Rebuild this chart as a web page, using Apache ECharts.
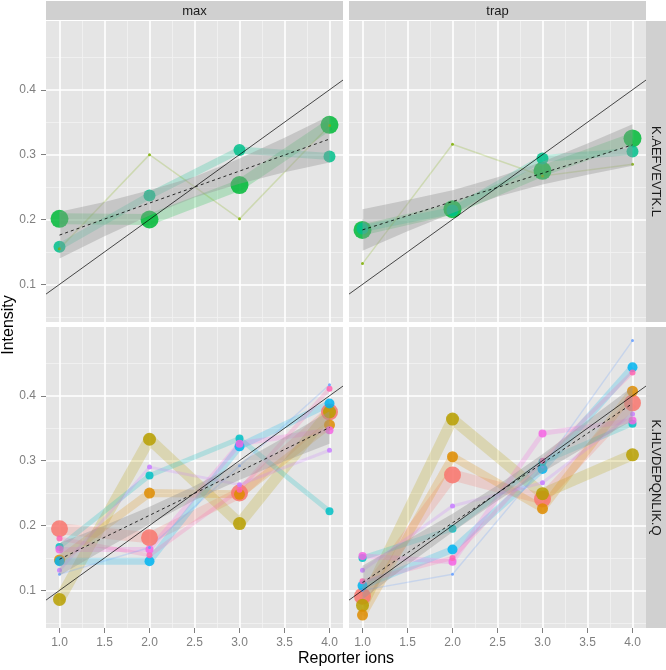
<!DOCTYPE html>
<html><head><meta charset="utf-8">
<script src="https://cdn.jsdelivr.net/npm/echarts@6/dist/echarts.min.js"></script>
<style>html,body{margin:0;padding:0;background:#fff}#chart{width:666px;height:670px}</style>
</head><body><div id="chart"></div>
<script>
// ---------- data ----------
const reporterIons = [1, 2, 3, 4];
const methods = ['max', 'trap'];
const peptides = ['K.AEFVEVTK.L', 'K.HLVDEPQNLIK.Q'];
const xTickValues = [1, 1.5, 2, 2.5, 3, 3.5, 4];
const xMinorBreaks = [1.25, 1.75, 2.25, 2.75, 3.25, 3.75];
const yTickValues = [0.1, 0.2, 0.3, 0.4];
const yMinorBreaks = [0.05, 0.15, 0.25, 0.35, 0.45];
const xLimits = [0.85, 4.15];
const yLimits = [0.042, 0.506];

// K.AEFVEVTK.L / max
const aefMaxA = [0.201, 0.200, 0.253, 0.346];
const aefMaxB = [0.158, 0.237, 0.307, 0.297];
const aefMaxC = [0.155, 0.300, 0.201, 0.345];
// K.AEFVEVTK.L / trap
const aefTrapA = [0.184, 0.216, 0.275, 0.325];
const aefTrapB = [0.186, 0.214, 0.294, 0.305];
const aefTrapC = [0.132, 0.316, 0.267, 0.285];

// K.HLVDEPQNLIK.Q / max
const hlvMaxRed     = [0.195, 0.181, 0.250, 0.375];
const hlvMaxOlive   = [0.086, 0.333, 0.203, 0.375];
const hlvMaxOrange  = [0.147, 0.250, 0.248, 0.355];
const hlvMaxBlue    = [0.145, 0.145, 0.322, 0.388];
const hlvMaxTeal    = [0.167, 0.277, 0.334, 0.222];
const hlvMaxMagenta = [0.163, 0.163, 0.326, 0.347];
const hlvMaxPink    = [0.180, 0.154, 0.255, 0.411];
const hlvMaxPurple  = [0.131, 0.290, 0.263, 0.316];
const hlvMaxViolet  = [0.125, 0.166, 0.292, 0.417];
// K.HLVDEPQNLIK.Q / trap
const hlvTrapRed     = [0.091, 0.278, 0.241, 0.389];
const hlvTrapOlive   = [0.077, 0.364, 0.249, 0.309];
const hlvTrapOrange  = [0.062, 0.306, 0.226, 0.407];
const hlvTrapBlue    = [0.107, 0.163, 0.287, 0.444];
const hlvTrapTeal    = [0.150, 0.195, 0.298, 0.357];
const hlvTrapMagenta = [0.153, 0.144, 0.342, 0.362];
const hlvTrapPink    = [0.114, 0.150, 0.300, 0.436];
const hlvTrapPurple  = [0.131, 0.230, 0.266, 0.372];
const hlvTrapViolet  = [0.100, 0.125, 0.290, 0.485];

// linear fits (dashed) and confidence bands
const fitX = [1, 4];
const aefMaxFit = [0.176, 0.324];
const aefTrapFit = [0.184, 0.315];
const hlvMaxFit = [0.148, 0.351];
const hlvTrapFit = [0.112, 0.388];
const bandX = [1, 1.5, 2, 2.5, 3, 3.5, 4];
const aefMaxLo  = [0.140, 0.174, 0.206, 0.234, 0.255, 0.273, 0.288];
const aefMaxHi  = [0.212, 0.227, 0.245, 0.266, 0.294, 0.326, 0.360];
const aefTrapLo = [0.152, 0.182, 0.210, 0.235, 0.254, 0.269, 0.283];
const aefTrapHi = [0.216, 0.230, 0.245, 0.265, 0.289, 0.317, 0.347];
const hlvMaxLo  = [0.123, 0.163, 0.202, 0.239, 0.270, 0.299, 0.326];
const hlvMaxHi  = [0.173, 0.200, 0.229, 0.261, 0.297, 0.336, 0.376];
const hlvTrapLo = [0.086, 0.139, 0.190, 0.238, 0.282, 0.323, 0.362];
const hlvTrapHi = [0.138, 0.178, 0.218, 0.262, 0.310, 0.362, 0.414];
// expected-ratio reference line
const refX = [0.85, 4.15];
const refY = [0.085, 0.415];

// ---------- styles ----------
const aefColors = ['#00BA38', '#00C08B', '#7CAE00'];
const aefSizes = [18, 12, 3];
const aefWidths = [11, 7, 1.5];
const hlvColors = ['#F8766D', '#B79F00', '#DE8C00', '#00B4F0', '#00BFC4', '#F564E3', '#FF64B0', '#C77CFF', '#619CFF'];
const hlvSizes = [17, 13, 11, 10, 8, 8, 6, 5, 3];
const hlvWidths = [11, 11, 8, 7, 5, 5, 4, 3, 1.5];

const FONT = '"Liberation Sans", Arial, Helvetica, sans-serif';
const PW = 297, PH = 301;
const boxes = [[46, 21], [349, 21], [46, 327], [349, 327]];

const panels = [
  { spectra: [aefMaxA, aefMaxB, aefMaxC], colors: aefColors, sizes: aefSizes, widths: aefWidths, lo: aefMaxLo, hi: aefMaxHi, fit: aefMaxFit },
  { spectra: [aefTrapA, aefTrapB, aefTrapC], colors: aefColors, sizes: aefSizes, widths: aefWidths, lo: aefTrapLo, hi: aefTrapHi, fit: aefTrapFit },
  { spectra: [hlvMaxRed, hlvMaxOlive, hlvMaxOrange, hlvMaxBlue, hlvMaxTeal, hlvMaxMagenta, hlvMaxPink, hlvMaxPurple, hlvMaxViolet], colors: hlvColors, sizes: hlvSizes, widths: hlvWidths, lo: hlvMaxLo, hi: hlvMaxHi, fit: hlvMaxFit },
  { spectra: [hlvTrapRed, hlvTrapOlive, hlvTrapOrange, hlvTrapBlue, hlvTrapTeal, hlvTrapMagenta, hlvTrapPink, hlvTrapPurple, hlvTrapViolet], colors: hlvColors, sizes: hlvSizes, widths: hlvWidths, lo: hlvTrapLo, hi: hlvTrapHi, fit: hlvTrapFit }
];

const grids = [], xAxes = [], yAxes = [], series = [];
panels.forEach((p, g) => {
  const isBottom = g >= 2, isLeft = g % 2 === 0;
  grids.push({ left: boxes[g][0], top: boxes[g][1], width: PW, height: PH, show: true, backgroundColor: '#E5E5E5', borderWidth: 0, containLabel: false });
  xAxes.push({
    type: 'value', gridIndex: g, min: xLimits[0], max: xLimits[1],
    axisLine: { show: false }, splitLine: { show: false },
    axisTick: { show: isBottom, length: 5, customValues: xTickValues, lineStyle: { color: '#7F7F7F', width: 1 } },
    axisLabel: { show: isBottom, customValues: xTickValues, formatter: v => Number(v).toFixed(1), color: '#7F7F7F', fontSize: 12, fontFamily: FONT, margin: 9 }
  });
  yAxes.push({
    type: 'value', gridIndex: g, min: yLimits[0], max: yLimits[1],
    axisLine: { show: false }, splitLine: { show: false },
    axisTick: { show: isLeft, length: 5, customValues: yTickValues, lineStyle: { color: '#7F7F7F', width: 1 } },
    axisLabel: { show: isLeft, customValues: yTickValues, formatter: v => Number(v).toFixed(1), color: '#7F7F7F', fontSize: 12, fontFamily: FONT, margin: 10 }
  });

  // coloured spectrum lines
  p.spectra.forEach((vals, j) => {
    series.push({
      type: 'line', xAxisIndex: g, yAxisIndex: g, z: 2, silent: true, symbol: 'none', animation: false,
      data: reporterIons.map((x, k) => [x, vals[k]]),
      lineStyle: { color: p.colors[j], width: p.widths[j], opacity: 0.22, join: 'round', cap: 'butt' }
    });
  });
  // points
  p.spectra.forEach((vals, j) => {
    series.push({
      type: 'scatter', xAxisIndex: g, yAxisIndex: g, z: 3, silent: true, animation: false,
      symbolSize: p.sizes[j],
      itemStyle: { color: p.colors[j], opacity: 0.85 },
      data: reporterIons.map((x, k) => [x, vals[k]])
    });
  });
  // confidence band
  const lo = p.lo, hi = p.hi;
  series.push({
    type: 'custom', xAxisIndex: g, yAxisIndex: g, z: 4, silent: true, animation: false,
    data: bandX.map((x, k) => [x, lo[k], hi[k]]),
    encode: { x: 0, y: [1, 2] },
    renderItem: (params, api) => {
      if (params.dataIndex !== 0) return null;
      const pts = [];
      for (let k = 0; k < bandX.length; k++) pts.push(api.coord([bandX[k], hi[k]]));
      for (let k = bandX.length - 1; k >= 0; k--) pts.push(api.coord([bandX[k], lo[k]]));
      return { type: 'polygon', shape: { points: pts }, style: { fill: 'rgba(153,153,153,0.4)' } };
    }
  });
  // dashed fit
  series.push({
    type: 'line', xAxisIndex: g, yAxisIndex: g, z: 5, silent: true, symbol: 'none', animation: false,
    data: fitX.map((x, k) => [x, p.fit[k]]),
    lineStyle: { color: '#000', width: 0.8, type: [3, 3] }
  });
  // reference line + panel grid lines
  const ml = [];
  yMinorBreaks.forEach(v => ml.push({ yAxis: v, lineStyle: { color: '#F2F2F2', width: 0.8, type: 'solid' } }));
  xMinorBreaks.forEach(v => ml.push({ xAxis: v, lineStyle: { color: '#F2F2F2', width: 0.8, type: 'solid' } }));
  yTickValues.forEach(v => ml.push({ yAxis: v, lineStyle: { color: '#FFFFFF', width: 1.6, type: 'solid' } }));
  xTickValues.forEach(v => ml.push({ xAxis: v, lineStyle: { color: '#FFFFFF', width: 1.6, type: 'solid' } }));
  series.push({
    type: 'line', xAxisIndex: g, yAxisIndex: g, z: 6, silent: true, symbol: 'none', animation: false,
    data: refX.map((x, k) => [x, refY[k]]),
    lineStyle: { color: '#000', width: 0.7 },
    markLine: { z: 1, silent: true, animation: false, symbol: ['none', 'none'], label: { show: false }, emphasis: { disabled: true }, data: ml }
  });
});

// strips and titles
const stripFill = '#D0D0D0';
const graphic = [];
methods.forEach((m, c) => {
  graphic.push({ type: 'rect', shape: { x: boxes[c][0], y: 1, width: PW, height: 19 }, style: { fill: stripFill }, silent: true });
  graphic.push({ type: 'text', x: boxes[c][0] + PW / 2, y: 11, style: { text: m, font: '13px ' + FONT, fill: '#1A1A1A', align: 'center', verticalAlign: 'middle' }, silent: true });
});
peptides.forEach((pep, r) => {
  const top = boxes[r * 2][1];
  graphic.push({ type: 'rect', shape: { x: 646, y: top, width: 20, height: PH }, style: { fill: stripFill }, silent: true });
  graphic.push({ type: 'text', x: 656, y: top + PH / 2, rotation: -Math.PI / 2, style: { text: pep, font: '13px ' + FONT, fill: '#1A1A1A', align: 'center', verticalAlign: 'middle' }, silent: true });
});
graphic.push({ type: 'text', x: 346, y: 659, style: { text: 'Reporter ions', font: '16px ' + FONT, fill: '#000', align: 'center', verticalAlign: 'middle' }, silent: true });
graphic.push({ type: 'text', x: 9, y: 325, rotation: Math.PI / 2, style: { text: 'Intensity', font: '16px ' + FONT, fill: '#000', align: 'center', verticalAlign: 'middle' }, silent: true });

const chart = echarts.init(document.getElementById('chart'), null, { renderer: 'canvas' });
chart.setOption({
  animation: false,
  backgroundColor: '#FFFFFF',
  grid: grids, xAxis: xAxes, yAxis: yAxes, series: series, graphic: graphic
});
</script></body></html>
